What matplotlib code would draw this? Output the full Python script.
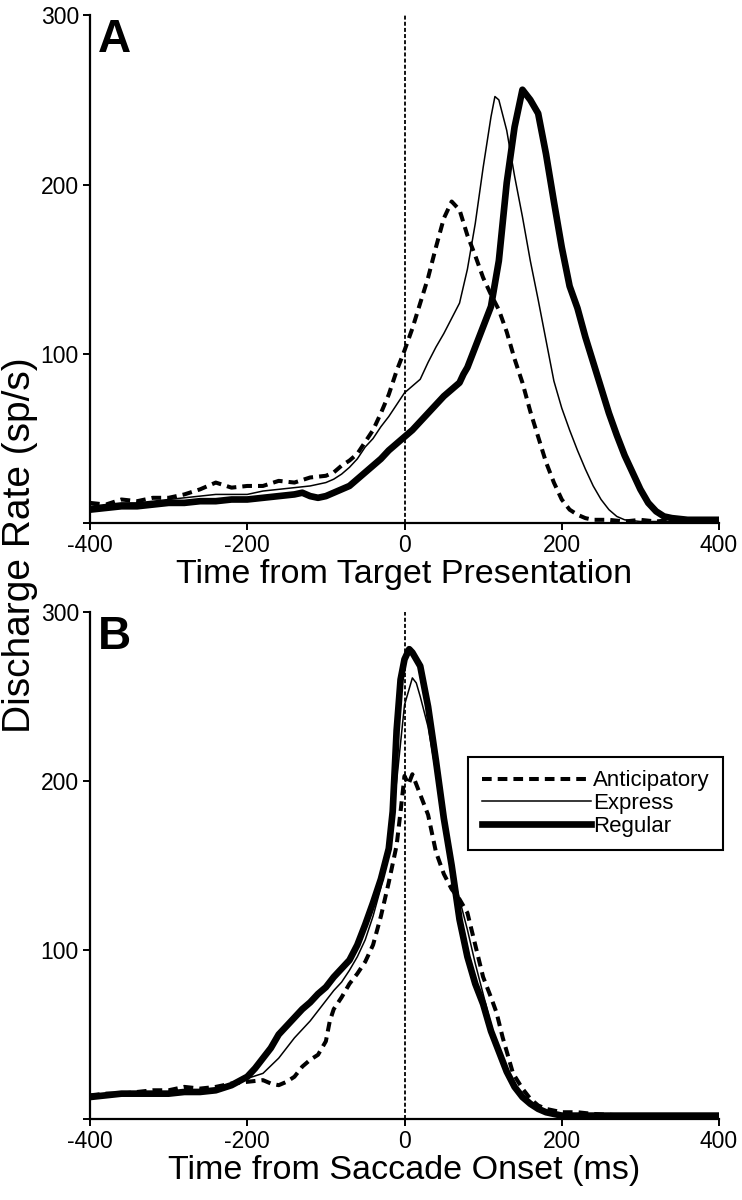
import numpy as np
import matplotlib
matplotlib.use('Agg')
import matplotlib.pyplot as plt

plt.rcParams['font.family'] = ['Liberation Sans', 'DejaVu Sans']
plt.rcParams['axes.unicode_minus'] = False

# Panel A: aligned on target presentation
a_ant_t = [-400, -380, -360, -340, -320, -300, -280, -260, -240, -220, -200, -180, -160, -140, -120,
           -100, -90, -80, -70, -60, -50, -40, -30, -20, -10, 0, 10, 20, 30, 40, 50, 60, 70, 80, 90,
           100, 110, 120, 130, 140, 150, 160, 170, 180, 190, 200, 210, 220, 230, 240, 260, 280, 300,
           320, 340, 360, 380, 400]
a_ant_r = [12, 11, 14, 13, 15, 15, 17, 20, 24, 21, 22, 22, 25, 24, 27,
           28, 30, 34, 37, 41, 48, 55, 65, 76, 90, 102, 115, 130, 145, 163, 180, 190, 185, 170, 158,
           145, 135, 126, 113, 97, 83, 66, 51, 36, 24, 14, 8, 5, 3, 2, 2, 1, 2,
           1, 2, 1, 2, 1]

a_exp_t = [-400, -380, -360, -340, -320, -300, -280, -260, -240, -220, -200, -180, -160, -140, -120,
           -100, -90, -80, -70, -60, -50, -40, -30, -20, -10, 0, 10, 20, 30, 40, 50, 60, 70, 80, 90,
           100, 110, 115, 120, 130, 140, 150, 160, 170, 180, 190, 200, 210, 220, 230, 240, 250, 260,
           270, 280, 300, 340, 400]
a_exp_r = [10, 11, 12, 12, 13, 14, 15, 16, 17, 17, 17, 19, 20, 21, 22,
           24, 26, 29, 33, 38, 45, 50, 57, 63, 70, 77, 81, 85, 95, 104, 112, 121, 130, 150, 177,
           210, 240, 252, 250, 232, 205, 181, 155, 132, 108, 84, 68, 55, 43, 32, 22, 14, 8,
           4, 2, 1, 1, 1]

a_reg_t = [-400, -380, -360, -340, -320, -300, -280, -260, -240, -220, -200, -180, -160, -140, -130,
           -120, -110, -100, -90, -80, -70, -60, -50, -40, -30, -20, -10, 0, 10, 20, 30, 40, 50, 60,
           70, 75, 80, 90, 100, 110, 120, 130, 140, 150, 160, 170, 180, 190, 200, 210, 220, 230, 240,
           250, 260, 270, 280, 290, 300, 310, 320, 330, 340, 360, 380, 400]
a_reg_r = [8, 9, 10, 10, 11, 12, 12, 13, 13, 14, 14, 15, 16, 17, 18,
           16, 15, 16, 18, 20, 22, 26, 30, 34, 38, 43, 47, 51, 55, 60, 65, 70, 75, 79,
           83, 88, 92, 104, 116, 128, 155, 201, 234, 256, 250, 242, 218, 190, 163, 140, 127, 110, 95,
           80, 65, 52, 40, 30, 20, 12, 7, 4, 3, 2, 2, 2]

# Panel B: aligned on saccade onset
b_ant_t = [-400, -380, -360, -340, -320, -300, -280, -260, -240, -220, -200, -180, -170, -160, -150,
           -140, -130, -120, -110, -100, -95, -90, -80, -70, -60, -50, -40, -30, -20, -10, -5, 0, 5,
           10, 15, 20, 30, 40, 50, 60, 70, 80, 90, 100, 110, 117, 125, 130, 138, 150, 160, 170, 180,
           190, 200, 220, 240, 280, 320, 360, 400]
b_ant_r = [14, 15, 15, 16, 17, 17, 19, 18, 19, 21, 22, 23, 21, 20, 22,
           25, 31, 35, 38, 46, 58, 65, 72, 80, 86, 93, 103, 120, 140, 162, 182, 203, 198,
           204, 198, 192, 180, 158, 145, 136, 130, 122, 103, 84, 72, 63, 48, 40, 27, 18, 12, 8, 6,
           5, 4, 4, 3, 2, 2, 2, 2]

b_exp_t = [-400, -380, -360, -340, -320, -300, -280, -260, -240, -220, -200, -180, -160, -150, -140,
           -120, -110, -100, -90, -80, -70, -60, -50, -40, -30, -20, -10, 0, 10, 15, 20, 30, 40, 50,
           60, 70, 80, 90, 100, 110, 120, 130, 140, 150, 160, 170, 180, 200, 250, 300, 400]
b_exp_r = [13, 14, 15, 15, 15, 16, 16, 17, 17, 20, 24, 27, 36, 42, 48,
           58, 64, 70, 76, 81, 88, 96, 106, 120, 137, 158, 200, 245, 261, 258, 250, 232, 205, 175,
           148, 130, 112, 92, 74, 56, 40, 28, 18, 12, 8, 6, 4, 2, 2, 2, 2]

b_reg_t = [-400, -380, -360, -340, -320, -300, -280, -260, -240, -220, -200, -190, -180, -170, -160,
           -150, -140, -130, -120, -110, -100, -90, -80, -70, -60, -50, -40, -30, -20, -15, -10, -5,
           0, 6, 10, 20, 30, 40, 50, 60, 70, 80, 90, 100, 110, 120, 130, 140, 150, 160, 170, 180,
           190, 200, 220, 260, 300, 340, 400]
b_reg_r = [13, 14, 15, 15, 15, 15, 16, 16, 17, 20, 25, 30, 36, 42, 50,
           55, 60, 65, 69, 74, 78, 84, 89, 94, 103, 115, 128, 142, 160, 182, 230, 260,
           272, 278, 276, 268, 244, 212, 178, 150, 118, 96, 80, 68, 52, 40, 28, 19, 13, 9, 6, 4,
           3, 2, 2, 2, 2, 2, 2]

labels = ['Anticipatory', 'Express', 'Regular']
xticks = [-400, -200, 0, 200, 400]
yticks = [0, 100, 200, 300]
ytick_labels = ['', '100', '200', '300']

fig = plt.figure(figsize=(7.42, 12), dpi=100)
ax_a = fig.add_axes([0.1213, 0.564, 0.8477, 0.4233])
ax_b = fig.add_axes([0.1213, 0.0675, 0.8477, 0.4225])


def draw(ax, ant, exp, reg, xlabel, letter):
    ax.plot(ant[0], ant[1], color='black', lw=2.9, dashes=(2.4, 1.5), label=labels[0])
    ax.plot(exp[0], exp[1], color='black', lw=1.1, label=labels[1])
    ax.plot(reg[0], reg[1], color='black', lw=4.8, label=labels[2])
    ax.axvline(0, color='black', lw=1.3, dashes=(2.2, 1.2))
    ax.set_xlim(-400, 400)
    ax.set_ylim(0, 300)
    ax.set_xticks(xticks)
    ax.set_yticks(yticks)
    ax.set_yticklabels(ytick_labels)
    for s in ['top', 'right']:
        ax.spines[s].set_visible(False)
    for s in ['left', 'bottom']:
        ax.spines[s].set_linewidth(1.6)
    ax.tick_params(direction='out', length=5, width=1.4, labelsize=16.5, pad=3)
    ax.set_xlabel(xlabel, fontsize=24.5, labelpad=1)
    ax.text(0.013, 0.995, letter, transform=ax.transAxes, fontsize=33,
            fontweight='bold', va='top', ha='left')


draw(ax_a, (a_ant_t, a_ant_r), (a_exp_t, a_exp_r), (a_reg_t, a_reg_r),
     'Time from Target Presentation', 'A')
draw(ax_b, (b_ant_t, b_ant_r), (b_exp_t, b_exp_r), (b_reg_t, b_reg_r),
     'Time from Saccade Onset (ms)', 'B')

leg = ax_b.legend(loc='upper right', bbox_to_anchor=(1.006, 0.714), borderaxespad=0,
                  fontsize=16, handlelength=4.9, handletextpad=0.1, labelspacing=0.08,
                  borderpad=0.6, fancybox=False, framealpha=1, edgecolor='black')
leg.get_frame().set_linewidth(1.5)

fig.text(0.027, 0.546, 'Discharge Rate (sp/s)', rotation=90, va='center', ha='center',
         fontsize=28)

fig.savefig('out.png', dpi=100)
